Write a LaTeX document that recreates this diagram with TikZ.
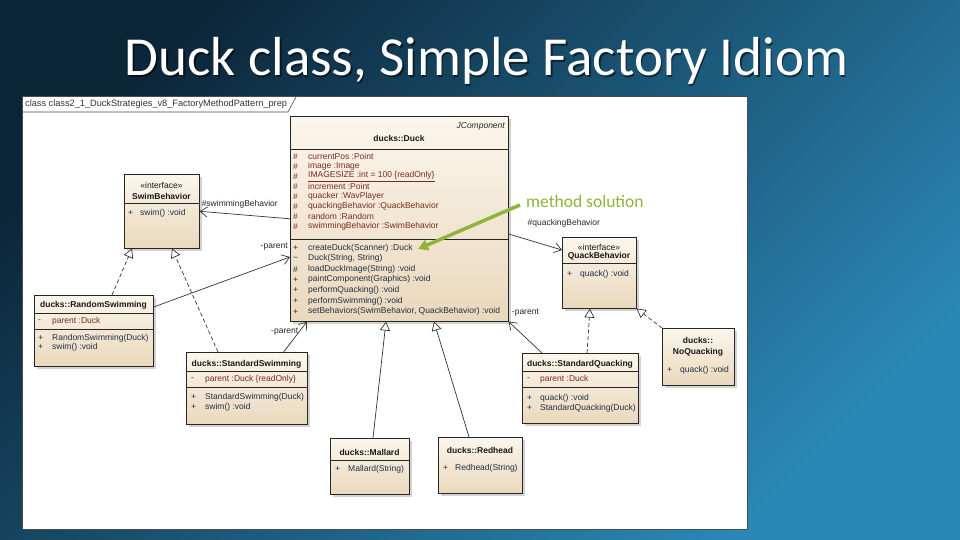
\documentclass[tikz,border=0pt]{standalone}
\usepackage{fontspec}
\setmainfont{Liberation Sans}
\newfontfamily\titlefont{Carlito}
\usetikzlibrary{arrows.meta,shadows}

\definecolor{bgdark}{HTML}{0C2639}
\definecolor{bglight}{HTML}{2B88B6}
\definecolor{classtop}{HTML}{FBF6EC}
\definecolor{classbot}{HTML}{EAD8BC}
\definecolor{attrcol}{HTML}{7A2A24}
\definecolor{opcol}{HTML}{1F3048}
\definecolor{hintgreen}{HTML}{8DB43C}

\begin{document}
\begin{tikzpicture}[x=1pt, y=-1pt,
  umlbox/.style={draw=black!85, line width=0.6pt, top color=classtop, bottom color=classbot,
    drop shadow={shadow xshift=2.5pt, shadow yshift=-2.5pt, opacity=0.35},
    anchor=north west, inner sep=0pt},
  sepline/.style={black!85, line width=0.5pt},
  uml/.style={font=\fontsize{8.5}{10}\selectfont, inner sep=0pt},
  hdr/.style={uml, font=\fontsize{8.5}{10}\selectfont\bfseries, text=black!90},
  stereo/.style={uml, text=black!90},
  attr/.style={uml, anchor=west, text=attrcol},
  oper/.style={uml, anchor=west, text=opcol},
  rolelbl/.style={uml, text=black!85},
  assoc/.style={black!80, line width=0.7pt, -{Straight Barb[length=7pt,width=10pt]}},
  realize/.style={black!80, line width=0.7pt, dash pattern=on 4pt off 2.5pt, -{Triangle[length=9pt,width=10pt,fill=white]}},
  inherit/.style={black!80, line width=0.7pt, -{Triangle[length=9pt,width=10pt,fill=white]}},
  hintarrow/.style={hintgreen, line width=3.5pt, -{Triangle[length=10pt,width=11pt]}}
]

% 1. Background and title
\shade[top color=bgdark, bottom color=bglight, shading angle=45] (0,0) rectangle (960,540);
\useasboundingbox (0,0) rectangle (960,540);
\node[anchor=base, font=\titlefont\fontsize{55}{60}\selectfont, text=black, opacity=0.5] (titleshade) at (488,77.5) {Duck class, Simple Factory Idiom};
\node[anchor=base, font=\titlefont\fontsize{55}{60}\selectfont, text=white] (title) at (486.5,76) {Duck class, Simple Factory Idiom};

% 2. Diagram frame
\node[draw=black!70, fill=white, line width=0.8pt, minimum width=725pt, minimum height=433pt, anchor=north west, inner sep=0pt] (panel) at (22,96) {};
\draw[black!70, line width=0.6pt] (22,112) -- (288,112) -- (296,97);
\node[uml, anchor=west, font=\fontsize{9.2}{10}\selectfont, text=black!80] (tabname) at (25,104) {class class2\_1\_DuckStrategies\_v8\_FactoryMethodPattern\_prep};

% 3. Class boxes
\node[umlbox, minimum width=218pt, minimum height=205pt] (duck) at (290,116) {};
\node[umlbox, minimum width=75pt, minimum height=74pt] (swim) at (124,174) {};
\node[umlbox, minimum width=74pt, minimum height=71pt] (qb) at (562,237) {};
\node[umlbox, minimum width=119pt, minimum height=71pt] (rswim) at (34,295) {};
\node[umlbox, minimum width=121pt, minimum height=72pt] (sswim) at (186,352) {};
\node[umlbox, minimum width=116pt, minimum height=70pt] (squack) at (522,353) {};
\node[umlbox, minimum width=72pt, minimum height=57pt] (noq) at (662,328) {};
\node[umlbox, minimum width=79pt, minimum height=56pt] (mallard) at (330,438) {};
\node[umlbox, minimum width=84pt, minimum height=56pt] (redhead) at (438,437) {};

% 4. Duck
\node[uml, anchor=east, font=\fontsize{8.5}{10}\selectfont\itshape, text=black!85] (duckparent) at (505,126) {JComponent};
\node[hdr] (duckname) at (399,138) {ducks::Duck};
\draw[sepline] (290,149) -- (508,149);
\draw[sepline] (290,239) -- (508,239);
\foreach \v/\t [count=\i from 0] in {\#/currentPos :Point, \#/image :Image,
  \#/{\underline{IMAGESIZE :int = 100 \{readOnly\}}}, \#/increment :Point,
  \#/quacker :WavPlayer, \#/quackingBehavior :QuackBehavior,
  \#/random :Random, \#/swimmingBehavior :SwimBehavior}
{
  \node[attr] (duckav\i) at (293,{156.5+10*\i}) {\v};
  \node[attr] (duckat\i) at (308,{156.5+10*\i}) {\t};
}
\foreach \v/\t [count=\i from 0] in {+/createDuck(Scanner) :Duck,
  \textasciitilde/{Duck(String, String)}, \#/loadDuckImage(String) :void,
  +/paintComponent(Graphics) :void, +/performQuacking() :void,
  +/performSwimming() :void, +/{setBehaviors(SwimBehavior, QuackBehavior) :void}}
{
  \node[oper] (duckov\i) at (293,{248+10.6*\i}) {\v};
  \node[oper] (duckot\i) at (308,{248+10.6*\i}) {\t};
}

% 5. Interfaces
\node[stereo] (swimst) at (161.5,185) {«interface»};
\node[hdr] (swimname) at (161.5,196) {SwimBehavior};
\draw[sepline] (124,203) -- (199,203);
\node[oper] (swimov) at (128,213) {+};
\node[oper] (swimot) at (140,213) {swim() :void};

\node[stereo] (qbst) at (599,247) {«interface»};
\node[hdr] (qbname) at (599,256) {QuackBehavior};
\draw[sepline] (562,263) -- (636,263);
\node[oper] (qbov) at (567,274) {+};
\node[oper] (qbot) at (580,274) {quack() :void};

% 6. Behaviours
\node[hdr] (rswimname) at (93.5,305) {ducks::RandomSwimming};
\draw[sepline] (34,313) -- (153,313);
\node[attr] (rswimav) at (38,321) {-};
\node[attr] (rswimat) at (52,321) {parent :Duck};
\draw[sepline] (34,329) -- (153,329);
\node[oper] (rswimov0) at (38,338) {+};
\node[oper] (rswimot0) at (52,338) {RandomSwimming(Duck)};
\node[oper] (rswimov1) at (38,347) {+};
\node[oper] (rswimot1) at (52,347) {swim() :void};

\node[hdr] (sswimname) at (246.5,364) {ducks::StandardSwimming};
\draw[sepline] (186,371) -- (307,371);
\node[attr] (sswimav) at (191,379) {-};
\node[attr] (sswimat) at (205,379) {parent :Duck \{readOnly\}};
\draw[sepline] (186,387) -- (307,387);
\node[oper] (sswimov0) at (191,397) {+};
\node[oper] (sswimot0) at (205,397) {StandardSwimming(Duck)};
\node[oper] (sswimov1) at (191,407) {+};
\node[oper] (sswimot1) at (205,407) {swim() :void};

\node[hdr] (squackname) at (580,364) {ducks::StandardQuacking};
\draw[sepline] (522,371) -- (638,371);
\node[attr] (squackav) at (527,379) {-};
\node[attr] (squackat) at (540,379) {parent :Duck};
\draw[sepline] (522,387) -- (638,387);
\node[oper] (squackov0) at (527,398) {+};
\node[oper] (squackot0) at (540,398) {quack() :void};
\node[oper] (squackov1) at (527,408) {+};
\node[oper] (squackot1) at (540,408) {StandardQuacking(Duck)};

\node[hdr] (noqname0) at (698,340) {ducks::};
\node[hdr] (noqname1) at (698,352) {NoQuacking};
\node[oper] (noqov) at (667,370) {+};
\node[oper] (noqot) at (680,370) {quack() :void};

% 7. Ducks
\node[hdr] (mallardname) at (369.5,452) {ducks::Mallard};
\draw[sepline] (330,460) -- (409,460);
\node[oper] (mallardov) at (335,469) {+};
\node[oper] (mallardot) at (348,469) {Mallard(String)};

\node[hdr] (redheadname) at (480,450) {ducks::Redhead};
\node[oper] (redheadov) at (443,468) {+};
\node[oper] (redheadot) at (455,468) {Redhead(String)};

% 8. Connectors
\draw[assoc] (duck.west) -- (swim.east)
  node[rolelbl, pos=0.98, anchor=south west, yshift=3pt] (swimrole) {\#swimmingBehavior};
\draw[assoc] ([yshift=-118pt]duck.north east) -- ([yshift=-13pt]qb.north west)
  node[rolelbl, pos=0.35, anchor=south west, yshift=12pt] (quackrole) {\#quackingBehavior};
\draw[assoc] ([yshift=-12pt]rswim.north east) -- ([yshift=-141pt]duck.north west)
  node[rolelbl, pos=1, anchor=south east, xshift=-2pt, yshift=6pt] (rswimrole) {-parent};
\draw[assoc] ([xshift=-24pt]sswim.north east) -- ([xshift=17pt]duck.south west)
  node[rolelbl, pos=0.68, anchor=east, xshift=-1pt] (sswimrole) {-parent};
\draw[assoc] ([xshift=20pt]squack.north west) -- (duck.south east)
  node[rolelbl, pos=1, anchor=west, xshift=3pt, yshift=9pt] (squackrole) {-parent};

\draw[realize] ([xshift=78pt]rswim.north west) -- ([xshift=8pt]swim.south west);
\draw[realize] ([xshift=32pt]sswim.north west) -- ([xshift=48pt]swim.south west);
\draw[realize] ([xshift=65pt]squack.north west) -- ([xshift=28pt]qb.south west);
\draw[realize] (noq.north west) -- (qb.south east);

\draw[inherit] ([xshift=43pt]mallard.north west) -- ([xshift=96pt]duck.south west);
\draw[inherit] ([xshift=31pt]redhead.north west) -- ([xshift=144pt]duck.south west);

% 9. Hint
\node[anchor=base west, font=\titlefont\fontsize{17.5}{20}\selectfont, text=hintgreen, inner sep=0pt] (msol) at (526,207) {method solution};
\coordinate (msoltip) at (418,249);
\draw[hintarrow] ([xshift=-6pt,yshift=-4pt]msol.west) -- (msoltip);

\end{tikzpicture}
\end{document}
